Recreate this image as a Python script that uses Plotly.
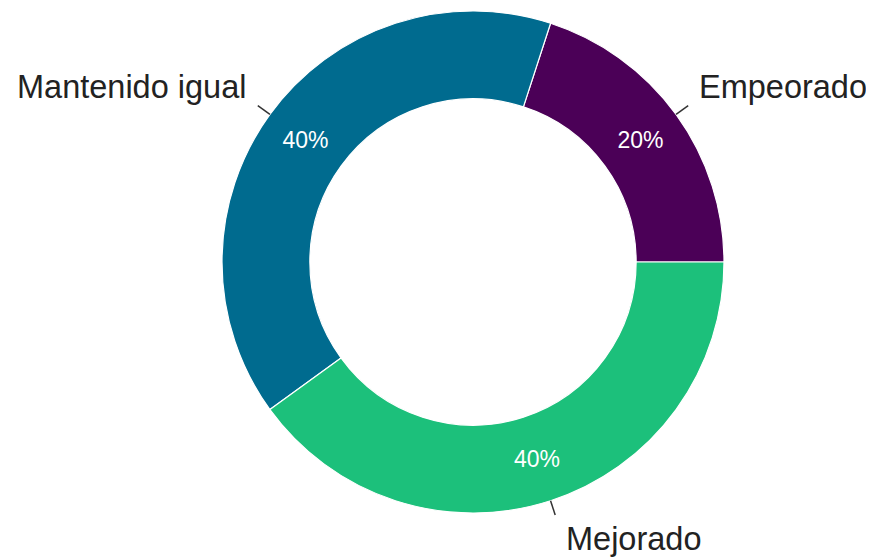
import math
import plotly.graph_objects as go

labels = ["Empeorado", "Mantenido igual", "Mejorado"]
values = [20, 40, 40]
colors = ["#4b0057", "#006b8f", "#1cc07b"]

# the page body has an 8px margin, so the figure is sized to fit the window
W, H = 866, 549
L, T, D = 214, 3, 502  # left margin, top margin, pie domain size (px)
R_PX = D / 2.0

total = float(sum(values))
# plotly (counterclockwise) puts the first slice's clockwise edge at rotation + its angle;
# we want the first slice to begin at 3 o'clock and run counterclockwise
rotation = 90 - 360.0 * values[0] / total

fig = go.Figure(go.Pie(
    labels=labels,
    values=values,
    sort=False,
    direction="counterclockwise",
    rotation=rotation,
    hole=0.65,
    marker=dict(colors=colors, line=dict(color="white", width=1.2)),
    texttemplate="%{percent:.0%}",
    textposition="inside",
    insidetextorientation="horizontal",
    insidetextfont=dict(color="white", size=23, family="Liberation Sans, Arial, sans-serif"),
    showlegend=False,
    hoverinfo="label+percent",
))

shapes = []
annotations = []
cum = 0.0
for lab, v in zip(labels, values):
    mid = (cum + v / 2.0) / total * 2 * math.pi
    cum += v
    c, s = math.cos(mid), math.sin(mid)
    r0, r1 = R_PX, R_PX + 15
    x0, y0 = 0.5 + r0 * c / D, 0.5 + r0 * s / D
    x1, y1 = 0.5 + r1 * c / D, 0.5 + r1 * s / D
    shapes.append(dict(type="line", xref="paper", yref="paper",
                       x0=x0, y0=y0, x1=x1, y1=y1,
                       line=dict(color="#333333", width=1.5)))
    annotations.append(dict(
        x=x1, y=y1, xref="paper", yref="paper", text=lab, showarrow=False,
        xanchor="left" if c > 0 else "right", yanchor="middle",
        xshift=9 if c > 0 else -10, yshift=19 if s > 0 else -24,
        font=dict(size=32.5, color="#222222", family="Liberation Sans, Arial, sans-serif"),
    ))

fig.update_layout(
    width=W, height=H,
    margin=dict(l=L, r=W - L - D, t=T, b=H - T - D, autoexpand=False),
    paper_bgcolor="white", plot_bgcolor="white",
    shapes=shapes, annotations=annotations,
)

fig.write_html("out.html")
